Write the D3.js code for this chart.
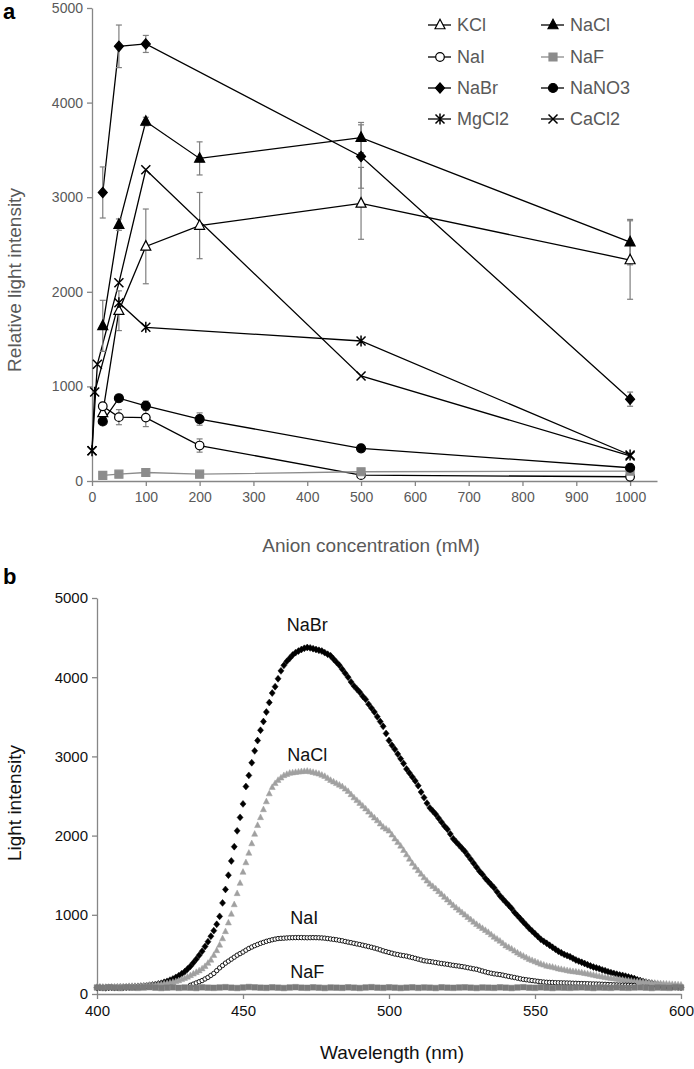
<!DOCTYPE html>
<html>
<head>
<meta charset="utf-8">
<script src="https://cdn.jsdelivr.net/npm/d3@7"></script>
<style>
  body { margin: 0; background: #fff; }
  svg { display: block; font-family: "Liberation Sans", Arial, sans-serif; }
</style>
</head>
<body>
<div id="chart"></div>
<script>
// ===========================
// Panel a: light intensity vs anion concentration
// ===========================
const kclConc = [20, 50, 100, 200, 500, 1000];
const kclMean = [720, 1800, 2480, 2700, 2935, 2336];
const kclErr = [40, 210, 395, 350, 380, 415];

const naclConc = [20, 50, 100, 200, 500, 1000];
const naclMean = [1640, 2710, 3800, 3410, 3630, 2525];
const naclErr = [270, 60, 45, 175, 160, 240];

const naiConc = [20, 50, 100, 200, 500, 1000];
const naiMean = [790, 675, 670, 375, 62, 45];
const naiErr = [40, 80, 95, 70, 0, 0];

const nafConc = [20, 50, 100, 200, 500, 1000];
const nafMean = [60, 72, 90, 72, 98, 105];

const nabrConc = [20, 50, 100, 500, 1000];
const nabrMean = [3050, 4595, 4620, 3430, 865];
const nabrErr = [270, 225, 90, 335, 75];

const nano3Conc = [20, 50, 100, 200, 500, 1000];
const nano3Mean = [630, 875, 795, 655, 345, 140];
const nano3Err = [20, 20, 50, 65, 0, 0];

const mgcl2Conc = [0, 5, 50, 100, 500, 1000];
const mgcl2Mean = [320, 940, 1885, 1625, 1480, 275];

const cacl2Conc = [0, 10, 50, 100, 500, 1000];
const cacl2Mean = [320, 1235, 2095, 3290, 1110, 265];

const concTicks = [0, 100, 200, 300, 400, 500, 600, 700, 800, 900, 1000];
const intensityTicks = [0, 1000, 2000, 3000, 4000, 5000];

// ===========================
// Panel b: emission spectra (1 nm steps, NaF every 2 nm)
// ===========================
const specWl = d3.range(400, 601);
const naiWl = d3.range(432, 585);
const nafWl = d3.range(400, 601, 2);

const nabrSpec = [
  80, 82, 80, 78, 82, 84, 80, 82, 85, 84,
  85, 88, 90, 92, 95, 98, 100, 105, 110, 115,
  120, 128, 135, 148, 160, 175, 190, 210, 230, 255,
  280, 315, 350, 395, 440, 490, 540, 600, 660, 730,
  800, 880, 980, 1150, 1320, 1500, 1680, 1860, 2060, 2230,
  2400, 2620, 2760, 2920, 3070, 3200, 3330, 3440, 3560, 3680,
  3800, 3880, 3980, 4080, 4150, 4200, 4240, 4280, 4310, 4330,
  4350, 4365, 4375, 4370, 4360, 4350, 4340, 4330, 4310, 4290,
  4270, 4230, 4190, 4150, 4100, 4050, 4000, 3940, 3890, 3850,
  3810, 3760, 3720, 3660, 3610, 3560, 3500, 3440, 3380, 3290,
  3200, 3140, 3090, 3030, 2970, 2910, 2840, 2790, 2740, 2690,
  2630, 2550, 2480, 2410, 2350, 2310, 2270, 2220, 2170, 2120,
  2080, 2020, 1960, 1920, 1880, 1840, 1800, 1750, 1700, 1650,
  1600, 1550, 1510, 1460, 1420, 1380, 1340, 1290, 1240, 1200,
  1160, 1120, 1080, 1030, 990, 950, 910, 870, 830, 795,
  760, 725, 690, 665, 640, 615, 590, 565, 540, 520,
  500, 485, 470, 450, 430, 415, 400, 385, 370, 355,
  340, 330, 320, 305, 295, 280, 270, 260, 250, 240,
  235, 225, 215, 205, 195, 180, 170, 160, 150, 142,
  135, 128, 120, 112, 105, 100, 95, 92, 90, 88,
  85];

const naclSpec = [
  90, 92, 90, 88, 88, 90, 92, 94, 95, 95,
  95, 98, 100, 100, 100, 102, 105, 108, 110, 112,
  115, 120, 125, 130, 135, 142, 150, 160, 170, 185,
  200, 215, 235, 255, 275, 295, 320, 350, 390, 430,
  490, 550, 620, 700, 790, 900, 1010, 1130, 1270, 1400,
  1540, 1660, 1780, 1900, 2020, 2130, 2230, 2330, 2430, 2530,
  2610, 2660, 2700, 2730, 2760, 2775, 2790, 2795, 2800, 2805,
  2810, 2812, 2815, 2808, 2800, 2790, 2780, 2765, 2750, 2725,
  2700, 2680, 2660, 2640, 2620, 2590, 2560, 2520, 2480, 2445,
  2410, 2375, 2340, 2300, 2260, 2225, 2190, 2150, 2110, 2085,
  2060, 2010, 1960, 1915, 1870, 1815, 1760, 1705, 1650, 1605,
  1560, 1515, 1470, 1430, 1390, 1360, 1330, 1295, 1260, 1225,
  1190, 1155, 1120, 1090, 1060, 1030, 1000, 970, 940, 910,
  880, 855, 830, 805, 780, 750, 720, 695, 670, 640,
  610, 590, 570, 545, 520, 500, 480, 460, 440, 425,
  410, 395, 380, 368, 355, 348, 340, 330, 320, 312,
  305, 298, 290, 285, 280, 275, 270, 262, 255, 248,
  240, 232, 225, 218, 210, 205, 200, 195, 190, 185,
  180, 175, 170, 165, 160, 158, 155, 152, 150, 145,
  140, 138, 135, 132, 130, 128, 125, 122, 120, 118,
  115];

const naiSpec = [
  110, 125, 140, 155, 170, 190, 210, 235, 260, 295,
  330, 360, 390, 415, 440, 465, 490, 510, 530, 553,
  575, 593, 610, 625, 640, 652, 665, 675, 685, 693,
  700, 703, 705, 708, 710, 711, 712, 712, 712, 711,
  710, 711, 712, 711, 710, 708, 705, 700, 695, 690,
  685, 678, 672, 663, 655, 648, 640, 632, 625, 616,
  608, 599, 590, 580, 570, 558, 545, 535, 525, 515,
  505, 498, 490, 484, 478, 469, 460, 450, 440, 430,
  420, 415, 410, 404, 398, 391, 385, 380, 375, 368,
  362, 357, 352, 346, 340, 332, 325, 318, 312, 301,
  290, 280, 270, 262, 255, 250, 245, 238, 230, 222,
  215, 208, 200, 192, 185, 180, 175, 170, 165, 160,
  155, 151, 148, 146, 145, 143, 142, 141, 140, 139,
  138, 136, 135, 133, 132, 131, 130, 128, 127, 126,
  125, 123, 122, 120, 118, 116, 115, 113, 112, 111,
  110, 109, 108];

const nafSpec = [82, 78, 85, 80, 76, 84, 80, 78, 82, 86, 80, 76, 80, 84, 78, 82, 80, 76, 84, 80,
  78, 82, 86, 80, 76, 82, 88, 84, 80, 78, 84, 80, 76, 82, 86, 80, 78, 84, 80, 76,
  82, 80, 78, 84, 80, 76, 82, 86, 80, 78, 84, 80, 76, 80, 84, 78, 82, 80, 76, 84,
  80, 78, 82, 84, 80, 76, 82, 80, 78, 84, 80, 76, 82, 86, 80, 78, 84, 80, 76, 82,
  80, 78, 82, 84, 80, 76, 82, 80, 78, 84, 80, 78, 82, 84, 80, 76, 82, 80, 78, 84, 82];

const wlTicks = [400, 450, 500, 550, 600];

// ---------------------------
// Marker shapes
// ---------------------------
function markerPath(shape, s) {
    switch (shape) {
        case 'triangle': return `M0,${-1.15 * s}L${s},${0.75 * s}L${-s},${0.75 * s}Z`;
        case 'diamond': return `M0,${-1.15 * s}L${s},0L0,${1.15 * s}L${-s},0Z`;
        case 'circle': return `M${s},0A${s},${s} 0 1,1 ${-s},0A${s},${s} 0 1,1 ${s},0Z`;
        case 'square': return `M${-s},${-s}H${s}V${s}H${-s}Z`;
        case 'cross': return `M${-s},${-s}L${s},${s}M${-s},${s}L${s},${-s}`;
        case 'star': return `M${-s},${-s}L${s},${s}M${-s},${s}L${s},${-s}M0,${-1.2 * s}V${1.2 * s}`;
    }
}

const GRAY_TEXT = '#595959';
const AXIS_GRAY = '#868686';

const seriesA = [
    { name: 'KCl', conc: kclConc, mean: kclMean, err: kclErr, shape: 'triangle', fill: '#fff', color: '#000', size: 5 },
    { name: 'NaCl', conc: naclConc, mean: naclMean, err: naclErr, shape: 'triangle', fill: '#000', color: '#000', size: 5 },
    { name: 'NaI', conc: naiConc, mean: naiMean, err: naiErr, shape: 'circle', fill: '#fff', color: '#000', size: 4.3 },
    { name: 'NaF', conc: nafConc, mean: nafMean, err: null, shape: 'square', fill: '#8c8c8c', color: '#8c8c8c', size: 4 },
    { name: 'NaBr', conc: nabrConc, mean: nabrMean, err: nabrErr, shape: 'diamond', fill: '#000', color: '#000', size: 4.5 },
    { name: 'NaNO3', conc: nano3Conc, mean: nano3Mean, err: nano3Err, shape: 'circle', fill: '#000', color: '#000', size: 4.5 },
    { name: 'MgCl2', conc: mgcl2Conc, mean: mgcl2Mean, err: null, shape: 'star', fill: 'none', color: '#000', size: 4.5 },
    { name: 'CaCl2', conc: cacl2Conc, mean: cacl2Mean, err: null, shape: 'cross', fill: 'none', color: '#000', size: 4.5 }
];

const svg = d3.select('#chart')
    .append('svg')
    .attr('width', 694)
    .attr('height', 1069);

function styleAxis(sel, textColor, fontSize) {
    sel.select('.domain').attr('stroke', AXIS_GRAY).attr('stroke-width', 1.3);
    sel.selectAll('.tick line').attr('stroke', AXIS_GRAY).attr('stroke-width', 1.3);
    sel.selectAll('.tick text')
        .attr('fill', textColor)
        .style('font-size', fontSize + 'px')
        .style('font-family', '"Liberation Sans", Arial, sans-serif');
}

// ===========================
// Panel a
// ===========================
const xA = d3.scaleLinear().domain([0, 1050]).range([92, 657]);
const yA = d3.scaleLinear().domain([0, 5000]).range([481, 8]);

const gA = svg.append('g');

gA.append('g')
    .attr('transform', `translate(0,${yA(0)})`)
    .call(d3.axisBottom(xA).tickValues(concTicks).tickFormat(d3.format('d')).tickSize(5).tickPadding(6).tickSizeOuter(0))
    .call(styleAxis, GRAY_TEXT, 14);

gA.append('g')
    .attr('transform', `translate(${xA(0)},0)`)
    .call(d3.axisLeft(yA).tickValues(intensityTicks).tickFormat(d3.format('d')).tickSize(5).tickPadding(4).tickSizeOuter(0))
    .call(styleAxis, GRAY_TEXT, 14);

const lineA = d3.line().x(d => xA(d.c)).y(d => yA(d.v));

seriesA.forEach(s => {
    const pts = s.conc.map((c, i) => ({ c, v: s.mean[i] }));
    gA.append('path')
        .datum(pts)
        .attr('d', lineA)
        .attr('fill', 'none')
        .attr('stroke', s.color)
        .attr('stroke-width', 1.3);
});

// error bars
seriesA.forEach(s => {
    if (!s.err) return;
    const pts = s.conc.map((c, i) => ({ c, v: s.mean[i], e: s.err[i] })).filter(d => d.e > 0);
    const eb = gA.append('g').attr('stroke', '#7f7f7f').attr('stroke-width', 1.2);
    pts.forEach(d => {
        const x = xA(d.c);
        eb.append('line').attr('x1', x).attr('x2', x).attr('y1', yA(d.v - d.e)).attr('y2', yA(d.v + d.e));
        eb.append('line').attr('x1', x - 3).attr('x2', x + 3).attr('y1', yA(d.v - d.e)).attr('y2', yA(d.v - d.e));
        eb.append('line').attr('x1', x - 3).attr('x2', x + 3).attr('y1', yA(d.v + d.e)).attr('y2', yA(d.v + d.e));
    });
});

// markers
seriesA.forEach(s => {
    gA.append('g')
        .selectAll('path')
        .data(s.conc.map((c, i) => ({ c, v: s.mean[i] })))
        .join('path')
        .attr('transform', d => `translate(${xA(d.c)},${yA(d.v)})`)
        .attr('d', markerPath(s.shape, s.size))
        .attr('fill', s.fill)
        .attr('stroke', s.color)
        .attr('stroke-width', s.fill === 'none' ? 1.5 : 1.2);
});

// legend
const legendCols = [428, 541];
const legendRows = [25, 57, 88, 119];
const legendOrder = ['KCl', 'NaCl', 'NaI', 'NaF', 'NaBr', 'NaNO3', 'MgCl2', 'CaCl2'];

legendOrder.forEach((name, i) => {
    const s = seriesA.find(d => d.name === name);
    const x0 = legendCols[i % 2];
    const y0 = legendRows[Math.floor(i / 2)];
    const item = gA.append('g').attr('transform', `translate(${x0},${y0})`);
    item.append('line')
        .attr('x1', 0).attr('x2', 23).attr('y1', 0).attr('y2', 0)
        .attr('stroke', s.color).attr('stroke-width', 1.3);
    item.append('path')
        .attr('transform', 'translate(12,0)')
        .attr('d', markerPath(s.shape, s.size))
        .attr('fill', s.fill)
        .attr('stroke', s.color)
        .attr('stroke-width', s.fill === 'none' ? 1.5 : 1.2);
    item.append('text')
        .attr('x', 29)
        .attr('y', 6)
        .attr('fill', GRAY_TEXT)
        .style('font-size', '18px')
        .text(name);
});

// axis titles
svg.append('text')
    .attr('transform', 'translate(21,280) rotate(-90)')
    .attr('text-anchor', 'middle')
    .attr('fill', GRAY_TEXT)
    .style('font-size', '19px')
    .text('Relative light intensity');

svg.append('text')
    .attr('x', 371)
    .attr('y', 552)
    .attr('text-anchor', 'middle')
    .attr('fill', GRAY_TEXT)
    .style('font-size', '19px')
    .text('Anion concentration (mM)');

svg.append('text')
    .attr('x', 3).attr('y', 19)
    .style('font-size', '22px').style('font-weight', 'bold')
    .text('a');

// ===========================
// Panel b
// ===========================
const xB = d3.scaleLinear().domain([400, 600]).range([97, 681]);
const yB = d3.scaleLinear().domain([0, 5000]).range([994, 598]);

const gB = svg.append('g');

gB.append('g')
    .attr('transform', `translate(0,${yB(0)})`)
    .call(d3.axisBottom(xB).tickValues(wlTicks).tickFormat(d3.format('d')).tickSize(5).tickPadding(6).tickSizeOuter(0))
    .call(styleAxis, '#111', 15);

gB.append('g')
    .attr('transform', `translate(${xB(400)},0)`)
    .call(d3.axisLeft(yB).tickValues(intensityTicks).tickFormat(d3.format('d')).tickSize(5).tickPadding(4).tickSizeOuter(0))
    .call(styleAxis, '#111', 15);

const seriesB = [
    { name: 'NaBr', wl: specWl, val: nabrSpec, shape: 'diamond', fill: '#000', color: '#000', size: 3, sw: 0.5 },
    { name: 'NaCl', wl: specWl, val: naclSpec, shape: 'triangle', fill: '#a0a0a0', color: '#a0a0a0', size: 3, sw: 0.5 },
    { name: 'NaI', wl: naiWl, val: naiSpec, shape: 'circle', fill: '#fff', color: '#000', size: 2.2, sw: 0.9 },
    { name: 'NaF', wl: nafWl, val: nafSpec, shape: 'square', fill: '#7a7a7a', color: '#7a7a7a', size: 2.8, sw: 0.5 }
];

seriesB.forEach(s => {
    gB.append('g')
        .selectAll('path')
        .data(s.wl.map((w, i) => ({ w, v: s.val[i] })))
        .join('path')
        .attr('transform', d => `translate(${xB(d.w)},${yB(d.v)})`)
        .attr('d', markerPath(s.shape, s.size))
        .attr('fill', s.fill)
        .attr('stroke', s.color)
        .attr('stroke-width', s.sw);
});

// curve labels
const specLabels = [
    { text: 'NaBr', w: 472, v: 4660 },
    { text: 'NaCl', w: 472, v: 3020 },
    { text: 'NaI', w: 471, v: 960 },
    { text: 'NaF', w: 472, v: 285 }
];
gB.selectAll('.spec-label')
    .data(specLabels)
    .join('text')
    .attr('class', 'spec-label')
    .attr('x', d => xB(d.w))
    .attr('y', d => yB(d.v))
    .attr('text-anchor', 'middle')
    .attr('dy', '0.35em')
    .attr('fill', '#111')
    .style('font-size', '18px')
    .text(d => d.text);

svg.append('text')
    .attr('transform', 'translate(21,803) rotate(-90)')
    .attr('text-anchor', 'middle')
    .attr('fill', '#111')
    .style('font-size', '19px')
    .text('Light intensity');

svg.append('text')
    .attr('x', 392)
    .attr('y', 1059)
    .attr('text-anchor', 'middle')
    .attr('fill', '#111')
    .style('font-size', '19px')
    .text('Wavelength (nm)');

svg.append('text')
    .attr('x', 3).attr('y', 584)
    .style('font-size', '22px').style('font-weight', 'bold')
    .text('b');
</script>
</body>
</html>
